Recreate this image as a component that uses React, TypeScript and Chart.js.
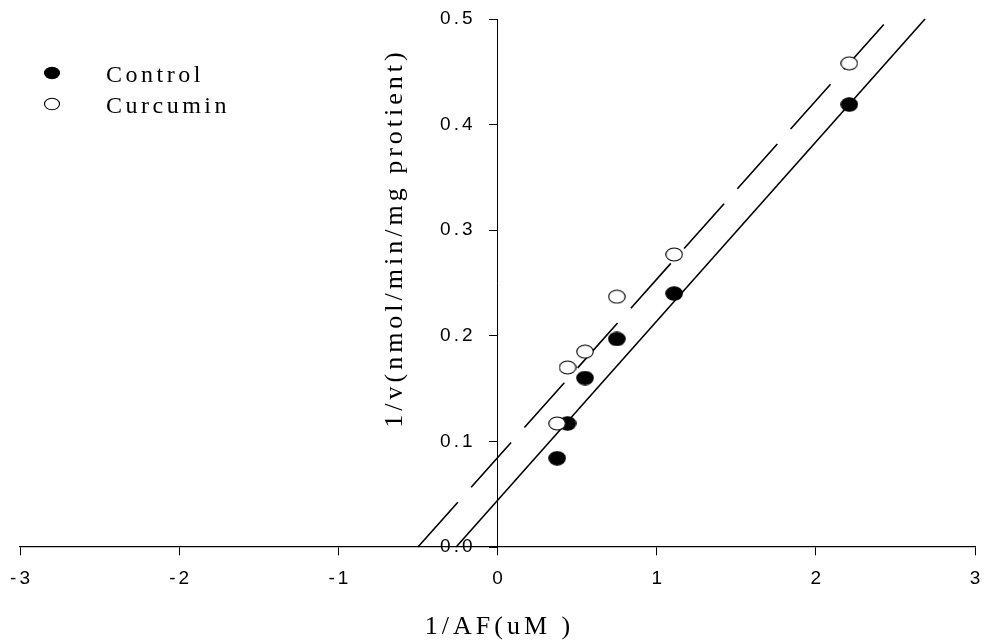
import React, { useEffect, useRef } from 'react';
import { Chart, registerables } from 'chart.js';

Chart.register(...registerables);

// ---- data ----
const seriesNames = ['Control', 'Curcumin'];
const controlX = [0.375, 0.44, 0.55, 0.75, 1.11, 2.21];
const controlY = [0.084, 0.117, 0.16, 0.197, 0.24, 0.419];
const curcuminX = [0.375, 0.44, 0.55, 0.75, 1.11, 2.21];
const curcuminY = [0.117, 0.17, 0.185, 0.237, 0.277, 0.458];
// fitted (Lineweaver-Burk) lines, end points
const controlFitX = [-0.26, 2.686];
const controlFitY = [0, 0.5];
const curcuminFitX = [-0.5, 2.458];
const curcuminFitY = [0, 0.5];
// axes
const xRange = [-3, 3];
const yRange = [0, 0.5];
const xStep = 1;
const yStep = 0.1;
const xAxisTitle = '1/AF(uM )';
const yAxisTitle = '1/v(nmol/min/mg protient)';

const zip = (xs: number[], ys: number[]) => xs.map((x, i) => ({ x, y: ys[i] }));

const SERIF = '"Liberation Serif", "Times New Roman", serif';
const SANS = '"Liberation Sans", Arial, sans-serif';
const TICK_SPACING = 3;
const Y_TICK_LEN = 8;
const Y_TICK_PAD = 14;

// slightly elliptical marker, as in the reference
function makeMarker(w: number, h: number, fill: string) {
  const c = document.createElement('canvas');
  c.width = w + 2;
  c.height = h + 2;
  const g = c.getContext('2d')!;
  g.beginPath();
  g.ellipse(c.width / 2, c.height / 2, w / 2, h / 2, 0, 0, Math.PI * 2);
  g.fillStyle = fill;
  g.fill();
  g.lineWidth = 1.1;
  g.strokeStyle = '#000';
  g.stroke();
  return c;
}

const spacingPlugin = {
  id: 'spacing',
  beforeLayout(chart: any) {
    chart.ctx.letterSpacing = TICK_SPACING + 'px';
  },
  beforeDraw(chart: any) {
    chart.ctx.letterSpacing = TICK_SPACING + 'px';
    const ys = chart.scales.y;
    const xs = chart.scales.x;
    const yItems = ys.getLabelItems(chart.chartArea);
    const xItems = xs.getLabelItems(chart.chartArea);
    if (!ys._shifted) {
      // y axis sits at x = 0: push its labels to the left of the tick marks
      yItems.forEach((it: any) => {
        it.options.translation[0] -= Y_TICK_LEN + Y_TICK_PAD;
      });
      // compensate the trailing letter spacing of centred x labels
      xItems.forEach((it: any) => {
        it.options.translation[0] += TICK_SPACING / 2;
      });
      ys._shifted = true;
    }
  },
  afterUpdate(chart: any) {
    chart.scales.y._shifted = false;
  },
  afterDraw(chart: any) {
    const ctx = chart.ctx as CanvasRenderingContext2D;
    const xs = chart.scales.x;
    ctx.save();
    ctx.fillStyle = '#000';
    ctx.strokeStyle = '#000';
    // x title
    (ctx as any).letterSpacing = '4px';
    ctx.font = `26px ${SERIF}`;
    ctx.textAlign = 'center';
    ctx.textBaseline = 'alphabetic';
    ctx.fillText(xAxisTitle, xs.getPixelForValue(0) + 2, 634);
    // y title
    ctx.save();
    ctx.translate(402, 240);
    ctx.rotate(-Math.PI / 2);
    ctx.fillText(yAxisTitle, 2, 0);
    ctx.restore();
    // legend
    (ctx as any).letterSpacing = '3.5px';
    ctx.font = `24px ${SERIF}`;
    ctx.textAlign = 'left';
    const rows = [
      { name: seriesNames[0], fill: '#000', cy: 73 },
      { name: seriesNames[1], fill: '#fff', cy: 104 },
    ];
    rows.forEach((r) => {
      ctx.beginPath();
      ctx.ellipse(52, r.cy, 7.5, 5.8, 0, 0, Math.PI * 2);
      ctx.fillStyle = r.fill;
      ctx.fill();
      ctx.lineWidth = 1.1;
      ctx.strokeStyle = '#000';
      ctx.stroke();
      ctx.fillStyle = '#000';
      ctx.fillText(r.name, 106, r.cy + 8.5);
    });
    ctx.restore();
  },
};

export default function App() {
  const ref = useRef<HTMLCanvasElement | null>(null);

  useEffect(() => {
    document.body.style.margin = '0';
    const canvas = ref.current!;
    const filled = makeMarker(16.5, 13.5, '#000');
    const open = makeMarker(16.5, 13, '#fff');
    const chart = new Chart(canvas, {
      type: 'scatter',
      data: {
        datasets: [
          {
            label: seriesNames[1],
            data: zip(curcuminX, curcuminY),
            pointStyle: open,
            pointRadius: 8,
            showLine: false,
            order: 0,
          },
          {
            label: seriesNames[0],
            data: zip(controlX, controlY),
            pointStyle: filled,
            pointRadius: 8,
            showLine: false,
            order: 1,
          },
          {
            type: 'line',
            label: 'Curcumin fit',
            data: zip(curcuminFitX, curcuminFitY),
            borderColor: '#000',
            borderWidth: 1.6,
            borderDash: [60, 20],
            pointRadius: 0,
            fill: false,
            order: 2,
          },
          {
            type: 'line',
            label: 'Control fit',
            data: zip(controlFitX, controlFitY),
            borderColor: '#000',
            borderWidth: 1.6,
            pointRadius: 0,
            fill: false,
            order: 3,
          },
        ] as any,
      },
      options: {
        animation: false,
        responsive: false,
        devicePixelRatio: 1,
        clip: false as any,
        layout: { padding: { left: 20, right: 4, top: 19, bottom: 94 } },
        plugins: { legend: { display: false }, tooltip: { enabled: false } },
        scales: {
          x: {
            type: 'linear',
            position: { y: 0 } as any,
            min: xRange[0],
            max: xRange[1],
            afterFit: (s: any) => {
              s.paddingLeft = 0;
              s.paddingRight = 0;
            },
            ticks: {
              stepSize: xStep,
              color: '#000',
              font: { family: SANS, size: 19 },
              padding: 12,
              maxRotation: 0,
              autoSkip: false,
            },
            grid: { drawOnChartArea: false, drawTicks: true, tickLength: 8, tickWidth: 1, color: '#000' },
            border: { display: true, color: '#000', width: 1.3 },
          },
          y: {
            type: 'linear',
            position: { x: 0 } as any,
            min: yRange[0],
            max: yRange[1],
            afterFit: (s: any) => {
              s.paddingTop = 0;
              s.paddingBottom = 0;
            },
            ticks: {
              stepSize: yStep,
              color: '#000',
              font: { family: SANS, size: 19 },
              padding: Y_TICK_PAD,
              autoSkip: false,
              callback: (v: any) => Number(v).toFixed(1),
            },
            grid: { drawOnChartArea: false, drawTicks: true, tickLength: Y_TICK_LEN, tickWidth: 1, color: '#000' },
            border: { display: true, color: '#000', width: 1 },
          },
        },
      },
      plugins: [spacingPlugin],
    });
    return () => chart.destroy();
  }, []);

  return (
    <div style={{ position: 'absolute', left: 0, top: 0, width: 984, height: 641, background: '#fff' }}>
      <canvas ref={ref} width={984} height={641} style={{ display: 'block', width: 984, height: 641 }} />
    </div>
  );
}
